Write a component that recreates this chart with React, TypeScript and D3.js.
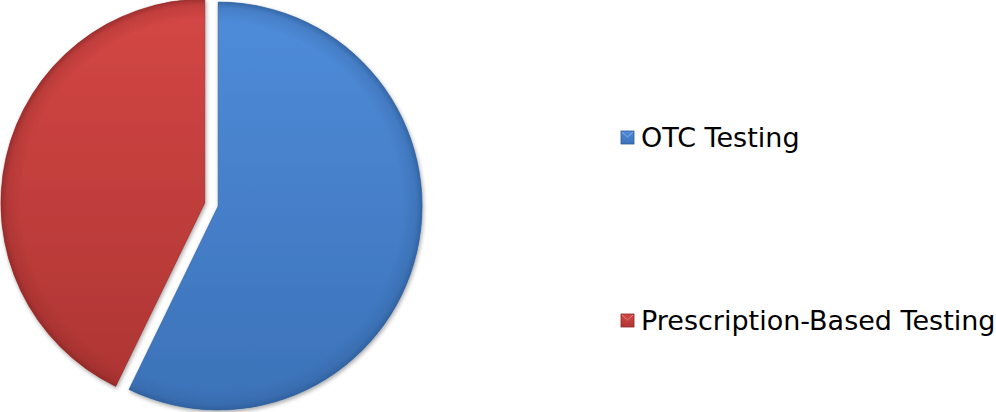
import React from "react";
import * as d3 from "d3";

const categories = ["OTC Testing", "Prescription-Based Testing"];
const values = [57.2, 42.8];
const colorsTop = ["#4f8cda", "#d44745"];
const colorsBottom = ["#3c72b8", "#ae3533"];
const edgeColors = ["#2c5a94", "#8a2625"];

export default function App() {
  const W = 996, H = 412;
  const cx = 211.5, cy = 204.5, r = 204, explode = 6.8;
  const pie = d3.pie<number>().sort(null).value((d) => d)(values);
  const arc = d3.arc<d3.PieArcDatum<number>>().innerRadius(0).outerRadius(r);
  const legendY = [138, 321];
  return (
    <svg width={W} height={H} style={{ position: "absolute", left: 0, top: 0 }}>
      <defs>
        {categories.map((c, i) => (
          <React.Fragment key={c}>
            <linearGradient id={`lg${i}`} x1="0" y1="0" x2="0" y2="1">
              <stop offset="0%" stopColor={colorsTop[i]} />
              <stop offset="100%" stopColor={colorsBottom[i]} />
            </linearGradient>
            <radialGradient id={`rg${i}`} cx="0" cy="0" r={r} gradientUnits="userSpaceOnUse">
              <stop offset="90%" stopColor={edgeColors[i]} stopOpacity={0} />
              <stop offset="97%" stopColor={edgeColors[i]} stopOpacity={0.25} />
              <stop offset="100%" stopColor={edgeColors[i]} stopOpacity={0.7} />
            </radialGradient>
            <linearGradient id={`mk${i}`} x1="0" y1="0" x2="0" y2="1">
              <stop offset="0%" stopColor={colorsTop[i]} />
              <stop offset="100%" stopColor={colorsBottom[i]} />
            </linearGradient>
          </React.Fragment>
        ))}
        <filter id="shadow" x="-10%" y="-10%" width="120%" height="120%">
          <feGaussianBlur in="SourceAlpha" stdDeviation="2" />
          <feOffset dx="1" dy="2" result="b" />
          <feComponentTransfer>
            <feFuncA type="linear" slope="0.35" />
          </feComponentTransfer>
          <feMerge>
            <feMergeNode />
            <feMergeNode in="SourceGraphic" />
          </feMerge>
        </filter>
      </defs>
      {pie.map((p, i) => {
        const mid = (p.startAngle + p.endAngle) / 2;
        const dx = Math.sin(mid) * explode;
        const dy = -Math.cos(mid) * explode;
        const d = arc(p) || "";
        return (
          <g key={i} transform={`translate(${cx + dx},${cy + dy})`} filter="url(#shadow)">
            <path d={d} fill={`url(#lg${i})`} />
            <path d={d} fill={`url(#rg${i})`} />
            <path d={d} fill="none" stroke={edgeColors[i]} strokeOpacity={0.5} strokeWidth={1} />
          </g>
        );
      })}
      {categories.map((c, i) => (
        <g key={c}>
          <rect x={621} y={legendY[i] - 7} width={13} height={13} fill={`url(#mk${i})`} stroke={edgeColors[i]} strokeWidth={0.8} />
          <path d={`M${622},${legendY[i] - 6} L${627.5},${legendY[i] - 1} L${633},${legendY[i] - 6}`} fill="none" stroke="#ffffff" strokeOpacity={0.35} strokeWidth={1} />
          <text x={641} y={legendY[i] + 8.5} fontFamily="Verdana, 'DejaVu Sans', sans-serif" fontSize={27} fill="#000">
            {c}
          </text>
        </g>
      ))}
    </svg>
  );
}
